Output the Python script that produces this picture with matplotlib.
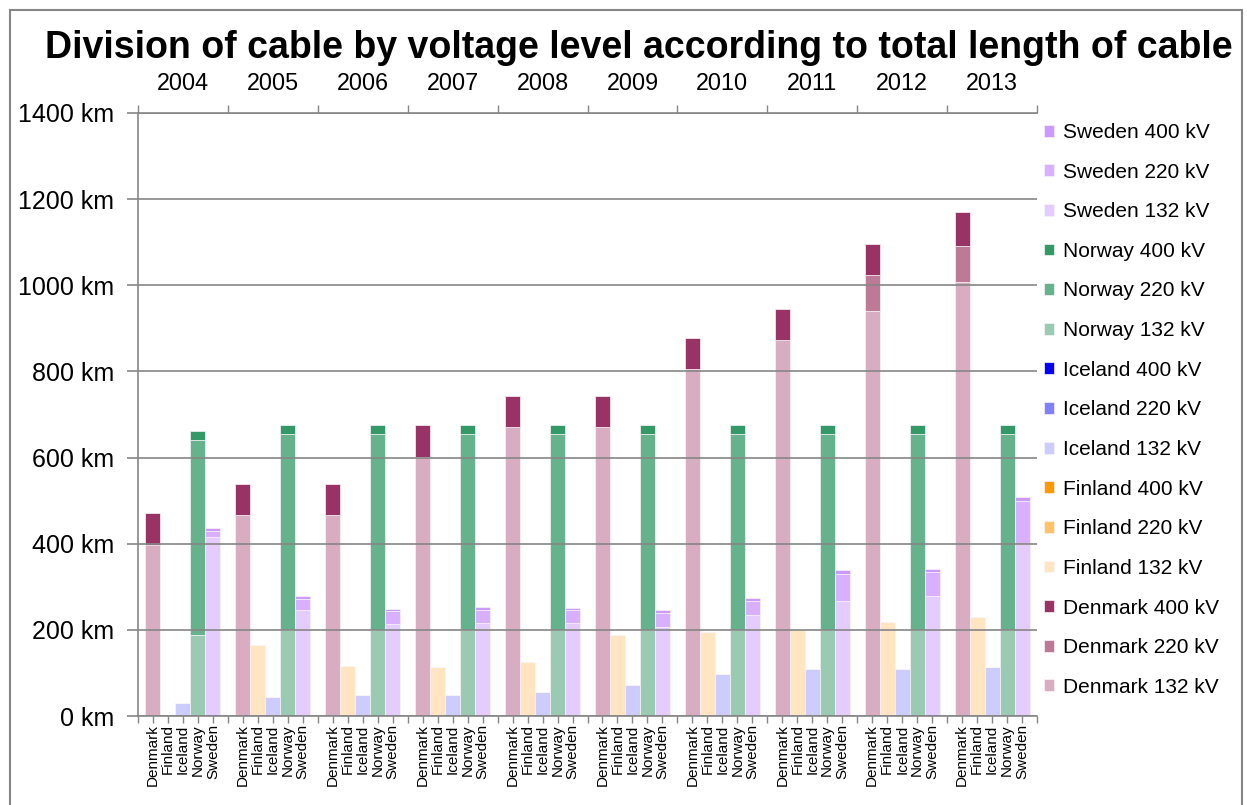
import matplotlib.pyplot as plt
from matplotlib.patches import Rectangle
from matplotlib.ticker import FuncFormatter

plt.rcParams['font.family'] = ['Liberation Sans', 'DejaVu Sans']

years = ['2004', '2005', '2006', '2007', '2008', '2009', '2010', '2011', '2012', '2013']
countries = ['Denmark', 'Finland', 'Iceland', 'Norway', 'Sweden']
levels = ['132 kV', '220 kV', '400 kV']

# km of cable per year
denmark_132 = [398, 467, 467, 601, 670, 670, 806, 872, 941, 1008]
denmark_220 = [0, 0, 0, 0, 0, 0, 0, 0, 83, 84]
denmark_400 = [73, 72, 72, 74, 72, 72, 72, 73, 72, 79]
finland_132 = [0, 164, 115, 113, 126, 189, 196, 200, 218, 231]
finland_220 = [0, 0, 0, 0, 0, 0, 0, 0, 0, 0]
finland_400 = [0, 0, 0, 0, 0, 0, 0, 0, 0, 0]
iceland_132 = [31, 45, 48, 48, 55, 73, 98, 110, 108, 114]
iceland_220 = [0, 0, 0, 0, 0, 0, 0, 0, 0, 0]
iceland_400 = [0, 0, 0, 0, 0, 0, 0, 0, 0, 0]
norway_132 = [189, 200, 200, 200, 200, 200, 200, 200, 200, 200]
norway_220 = [451, 454, 454, 454, 454, 454, 454, 454, 454, 454]
norway_400 = [21, 22, 22, 22, 22, 22, 22, 22, 22, 22]
sweden_132 = [415, 245, 213, 217, 216, 206, 234, 268, 278, 400]
sweden_220 = [15, 26, 30, 28, 29, 33, 33, 62, 57, 100]
sweden_400 = [7, 8, 6, 9, 6, 8, 8, 9, 7, 8]

data = {
    'Denmark': [denmark_132, denmark_220, denmark_400],
    'Finland': [finland_132, finland_220, finland_400],
    'Iceland': [iceland_132, iceland_220, iceland_400],
    'Norway': [norway_132, norway_220, norway_400],
    'Sweden': [sweden_132, sweden_220, sweden_400],
}
colors = {
    'Denmark': ['#D8ACC1', '#BD7A97', '#993366'],
    'Finland': ['#FFE5C2', '#FFC266', '#FF9900'],
    'Iceland': ['#CCCCFF', '#8080FF', '#0000FF'],
    'Norway': ['#9BCAB2', '#66B28C', '#339966'],
    'Sweden': ['#E5CCFF', '#D8B0FF', '#CC99FF'],
}

fig = plt.figure(figsize=(12.47, 8.05), dpi=100)
ax = fig.add_axes([138 / 1247, 89 / 805, 899 / 1247, 603 / 805])

group = 6  # 5 countries + half slot each side
handles = {}
for c, country in enumerate(countries):
    xs = [group * y + 1 + c for y in range(len(years))]
    bottom = [0] * len(years)
    for l, level in enumerate(levels):
        vals = data[country][l]
        b = ax.bar(xs, vals, width=1.0, bottom=bottom, color=colors[country][l],
                   edgecolor='#F8F4F8', linewidth=0.5, zorder=2)
        handles[country + ' ' + level] = b
        bottom = [bottom[i] + vals[i] for i in range(len(vals))]

ax.set_xlim(0, group * len(years))
ax.set_ylim(0, 1400)
ax.set_yticks(range(0, 1401, 200))
ax.yaxis.set_major_formatter(FuncFormatter(lambda v, p: '%d km' % v))
ax.tick_params(axis='y', labelsize=18, length=8, width=1.2, color='#868686', pad=9,
               direction='out', right=False)
ax.grid(axis='y', color='#868686', linewidth=1.2, zorder=3)
ax.set_axisbelow(False)

# bottom axis: a tick on every slot, country names under the bars
xt = list(range(0, group * len(years) + 1))
ax.set_xticks(xt)
ax.set_xticklabels(['' if t % group == 0 else countries[t % group - 1] for t in xt],
                   rotation=90, fontsize=11, va='top')
ax.tick_params(axis='x', which='major', length=5, width=1.0, color='#868686', pad=1,
               bottom=True, top=False)

# top: year boundaries as minor ticks, year names above
ax.xaxis.remove_overlapping_locs = False
ax.set_xticks(range(0, group * len(years) + 1, group), minor=True)
ax.tick_params(axis='x', which='minor', top=True, bottom=False, length=6, width=1.0,
               color='#868686', labeltop=False, labelbottom=False)
for y, year in enumerate(years):
    ax.annotate(year, xy=(group * y + group / 2, 1), xycoords=('data', 'axes fraction'),
                xytext=(0, 21), textcoords='offset points', ha='center', va='center',
                fontsize=16.8)

for s in ['left', 'bottom', 'top']:
    ax.spines[s].set_color('#868686')
    ax.spines[s].set_linewidth(1.2)
ax.spines['right'].set_visible(False)

order = [cn + ' ' + lv for cn in reversed(countries) for lv in reversed(levels)]
fig.legend([handles[k] for k in order], order, loc='upper left',
           bbox_to_anchor=(1044 / 1247, 1 - 123 / 805), frameon=False,
           fontsize=15, handlelength=0.5, handleheight=0.5, handletextpad=0.4,
           labelspacing=0.99, borderpad=0, borderaxespad=0)

fig.text(0.5125, 1 - 48 / 805, 'Division of cable by voltage level according to total length of cable',
         ha='center', va='center', fontsize=27, fontweight='bold')

fig.patches.append(Rectangle((10 / 1247, -0.01), 1232 / 1247, 1 - 10 / 805 + 0.01,
                             transform=fig.transFigure, fill=False,
                             edgecolor='#868686', linewidth=1.5))

plt.savefig('out.png', dpi=100)
